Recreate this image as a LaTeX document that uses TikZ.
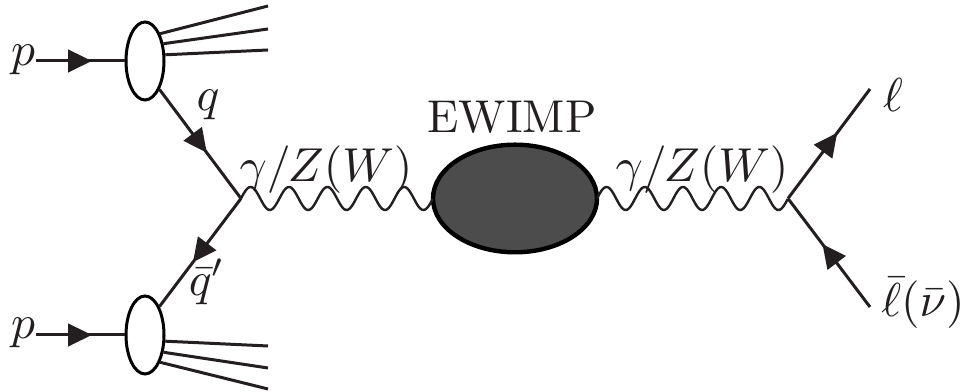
\documentclass[tikz,border=0pt]{standalone}
\usetikzlibrary{arrows.meta,calc,decorations.markings,shapes.geometric}
\definecolor{ink}{HTML}{231F20}
\newcommand{\wavebetween}[2]{\draw[photon] let \p1=(#1),\p2=(#2) in plot[variable=\t,domain=0:1,samples=161,smooth] ({\x1+\t*(\x2-\x1)},{\y1+2.875pt*sin(1800*\t)});}
\tikzset{
  x=0.25pt,y=-0.25pt,
  fermion/.style={line width=0.75pt,draw=ink},
  jet/.style={line width=0.75pt,draw=ink},
  arrowed/.style={fermion,postaction={decorate},decoration={markings,mark=at position #1 with {\arrow[ink]{Triangle[length=5.9pt,width=5.6pt]}}}},
  photon/.style={line width=0.6pt,draw=ink},
  blob/.style={ellipse,draw=black,line width=0.75pt,fill=white,inner sep=0pt,minimum width=9.5pt,minimum height=19.5pt},
  bigblob/.style={ellipse,draw=black,line width=1.1pt,fill=black!70,inner sep=0pt,outer sep=0pt,minimum width=41pt,minimum height=26.9pt},
  lab/.style={inner sep=0pt,scale=1.19,text=ink},
  labtext/.style={inner sep=0pt,scale=1.15,text=ink}
}
\begin{document}
\begin{tikzpicture}
\useasboundingbox (0,0) rectangle (964,392);
\coordinate (pa) at (36,61);
\coordinate (pb) at (36,335);
\coordinate (v1) at (241,198.5);
\coordinate (v2) at (788,198.5);
\coordinate (lp) at (870,89);
\coordinate (lm) at (870,307);
\foreach \n/\x/\y in {j1/268/6,j2/268/29,j3/268/50,j4/268/346,j5/268/368,j6/268/389}
  \coordinate (\n) at (\x,\y);
\node[blob] (b1) at (145,61) {};
\node[blob] (b2) at (145,335) {};
\node[bigblob] (c) at (515,198.5) {};
\wavebetween{v1}{c.west}
\wavebetween{c.east}{v2}
\draw[arrowed=0.63] (pa) -- (b1.west);
\draw[arrowed=0.63] (pb) -- (b2.west);
\draw[jet] (b1.61) -- (j1);
\draw[jet] (b1.43) -- (j2);
\draw[jet] (b1.17) -- (j3);
\draw[jet] (b2.-17) -- (j4);
\draw[jet] (b2.-43) -- (j5);
\draw[jet] (b2.-61) -- (j6);
\draw[arrowed=0.58] (b1.-63) -- (v1);
\draw[arrowed=0.59] (v1) -- (b2.63);
\draw[arrowed=0.60] (v2) -- (lp);
\draw[arrowed=0.58] (lm) -- (v2);
\node[lab] (lp1) at (23,60) {$p$};
\node[lab] (lp2) at (23,333) {$p$};
\node[lab] (lq) at (208,105) {$q$};
\node[lab] (lqb) at (207,282) {$\bar{q}'$};
\node[lab] (lg1) at (326,170) {$\gamma/Z(W)$};
\node[lab] (lg2) at (702,170) {$\gamma/Z(W)$};
\node[labtext] (le) at (512,117.5) {EWIMP};
\node[lab] (ll) at (893,95) {$\ell$};
\node[lab] (llb) at (923,303) {$\bar{\ell}(\bar{\nu})$};
\end{tikzpicture}
\end{document}
